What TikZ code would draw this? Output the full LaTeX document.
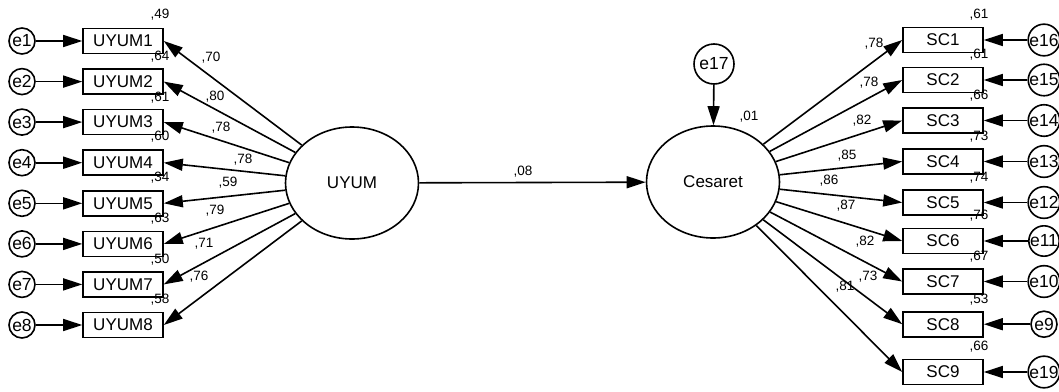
\documentclass[tikz,border=0pt]{standalone}
\usepackage{fontspec}
\setmainfont{Liberation Sans}
\usetikzlibrary{arrows.meta,shapes.geometric}
\begin{document}
\begin{tikzpicture}[x=1pt,y=-1pt,
  lw/.style={line width=1.6pt},
  obs/.style={draw,lw,rectangle,minimum width=80pt,minimum height=25pt,inner sep=0pt,font=\fontsize{17}{18}\selectfont},
  err/.style={draw,lw,circle,minimum size=26pt,inner sep=0pt,font=\fontsize{17.5}{18}\selectfont},
  lat/.style={draw,lw,ellipse,minimum width=133pt,minimum height=112pt,inner sep=0pt,font=\fontsize{17}{18}\selectfont},
  num/.style={font=\fontsize{13.5}{14}\selectfont,inner sep=0pt},
  arr/.style={lw,-{Triangle[length=19pt,width=12pt]}},
]
\useasboundingbox (0,0) rectangle (1059,391);
\node[lat] (UY) at (352,183) {UYUM};
\node[lat] (CE) at (713,182) {Cesaret};
\node[err,minimum size=40pt] (e17) at (714,64) {e17};
\draw[arr] (e17) -- (CE);
\draw[arr] (UY) -- (CE);
\node[num] (l08) at (523,172) {,08};
\node[num] (l01) at (749,117) {,01};
\foreach \i/\y/\rr/\ry/\ld/\lx/\ly in {
  1/41/49/15/70/211/58,
  2/81.6/64/57/80/215/97,
  3/122.1/61/98/78/221/128,
  4/162.7/60/137/78/243/160,
  5/203.3/34/178/59/228/183,
  6/243.9/63/219/79/215/211,
  7/284.4/50/260/71/204/244,
  8/325/58/300/76/199/277}{
  \node[err] (eL\i) at (22,\y) {e\i};
  \node[obs] (U\i) at (123,\y) {UYUM\i};
  \draw[arr] (eL\i) -- (U\i);
  \draw[arr] (UY) -- (U\i.east);
  \node[num] (rU\i) at (160,\ry) {,\rr};
  \node[num] (lU\i) at (\lx,\ly) {,\ld};
}
\foreach \i/\n/\y/\rr/\ry/\ld/\lx/\ly in {
  1/16/40/61/15/78/874/44,
  2/15/80/61/55/78/869/83,
  3/14/120.5/66/96/82/862/121,
  4/13/161.5/73/137/85/847/156,
  5/12/202.5/74/178/86/829/181,
  6/11/241/76/216/87/846/206,
  7/10/281.5/67/257/82/865/242,
  8/9/324.2/53/300/73/868/277,
  9/19/372/66/347/81/845/287}{
  \node[err] (eR\i) at (1044,\y) {e\n};
  \node[obs] (S\i) at (943,\y) {SC\i};
  \draw[arr] (eR\i) -- (S\i);
  \draw[arr] (CE) -- (S\i.west);
  \node[num] (rS\i) at (979,\ry) {,\rr};
  \node[num] (lS\i) at (\lx,\ly) {,\ld};
}
\end{tikzpicture}
\end{document}
